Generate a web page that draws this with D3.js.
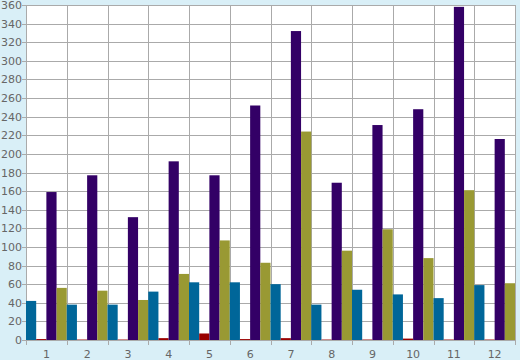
<!DOCTYPE html>
<html>
<head>
<meta charset="utf-8">
<script src="https://cdn.jsdelivr.net/npm/d3@7/dist/d3.min.js"></script>
<style>
  html, body { margin: 0; padding: 0; background: #d9eff7; }
  svg { display: block; }
  text { font-family: "DejaVu Sans", Verdana, sans-serif; font-size: 11px; fill: #666; }
</style>
</head>
<body>
<svg id="chart"></svg>
<script>
// data
const categories = ["1", "2", "3", "4", "5", "6", "7", "8", "9", "10", "11", "12"];
const seriesNames = ["blue", "red", "purple", "olive"];
const blueValues   = [42, 38, 38, 52, 62, 62, 60, 38, 54, 49, 45, 59];
const redValues    = [1, 0.5, 0.5, 2, 7, 1, 2, 0.5, 0.5, 1.5, 0.5, 0.5];
const purpleValues = [159, 177, 132, 192, 177, 252, 332, 169, 231, 248, 358, 216];
const oliveValues  = [56, 53, 43, 71, 107, 83, 224, 96, 119, 88, 161, 61];
const yTicks = d3.range(0, 361, 20);

const colors = ["#006699", "#990000", "#330066", "#999933"];
const allSeries = [blueValues, redValues, purpleValues, oliveValues];

const width = 520, height = 360;
const margin = { top: 5, right: 5, bottom: 20, left: 26 };

const svg = d3.select("#chart").attr("width", width).attr("height", height);

const x = d3.scaleBand()
  .domain(categories)
  .range([margin.left, width - margin.right])
  .padding(0);

const xInner = d3.scaleBand()
  .domain(seriesNames)
  .range([0, x.bandwidth()])
  .padding(0);

const y = d3.scaleLinear()
  .domain([0, 360])
  .range([height - margin.bottom, margin.top]);

// plot background
svg.append("rect")
  .attr("x", margin.left)
  .attr("y", margin.top)
  .attr("width", width - margin.left - margin.right)
  .attr("height", height - margin.top - margin.bottom)
  .attr("fill", "#fff");

// horizontal grid
svg.append("g")
  .selectAll("line")
  .data(yTicks)
  .join("line")
  .attr("x1", margin.left - 4)
  .attr("x2", width - margin.right)
  .attr("y1", d => Math.round(y(d)) + 0.5)
  .attr("y2", d => Math.round(y(d)) + 0.5)
  .attr("stroke", "#aaa");

// vertical grid at band edges
const edges = categories.map(c => x(c)).concat([x.range()[1]]);
svg.append("g")
  .selectAll("line")
  .data(edges)
  .join("line")
  .attr("x1", d => Math.round(d) + 0.5)
  .attr("x2", d => Math.round(d) + 0.5)
  .attr("y1", margin.top)
  .attr("y2", height - margin.bottom + 5)
  .attr("stroke", "#aaa");

// bars
const groups = svg.append("g")
  .selectAll("g")
  .data(categories)
  .join("g")
  .attr("transform", d => `translate(${x(d)},0)`);

groups.selectAll("rect")
  .data((c, i) => allSeries.map((s, k) => ({ key: seriesNames[k], value: s[i], color: colors[k] })))
  .join("rect")
  .attr("x", d => xInner(d.key))
  .attr("width", xInner.bandwidth())
  .attr("y", d => y(d.value))
  .attr("height", d => y(0) - y(d.value))
  .attr("fill", d => d.color);

// y labels
svg.append("g")
  .selectAll("text")
  .data(yTicks)
  .join("text")
  .attr("x", margin.left - 4)
  .attr("y", d => y(d) + 4)
  .attr("text-anchor", "end")
  .text(d => d);

// x labels
svg.append("g")
  .selectAll("text")
  .data(categories)
  .join("text")
  .attr("x", d => x(d) + x.bandwidth() / 2)
  .attr("y", height - 2)
  .attr("text-anchor", "middle")
  .text(d => d);
</script>
</body>
</html>
